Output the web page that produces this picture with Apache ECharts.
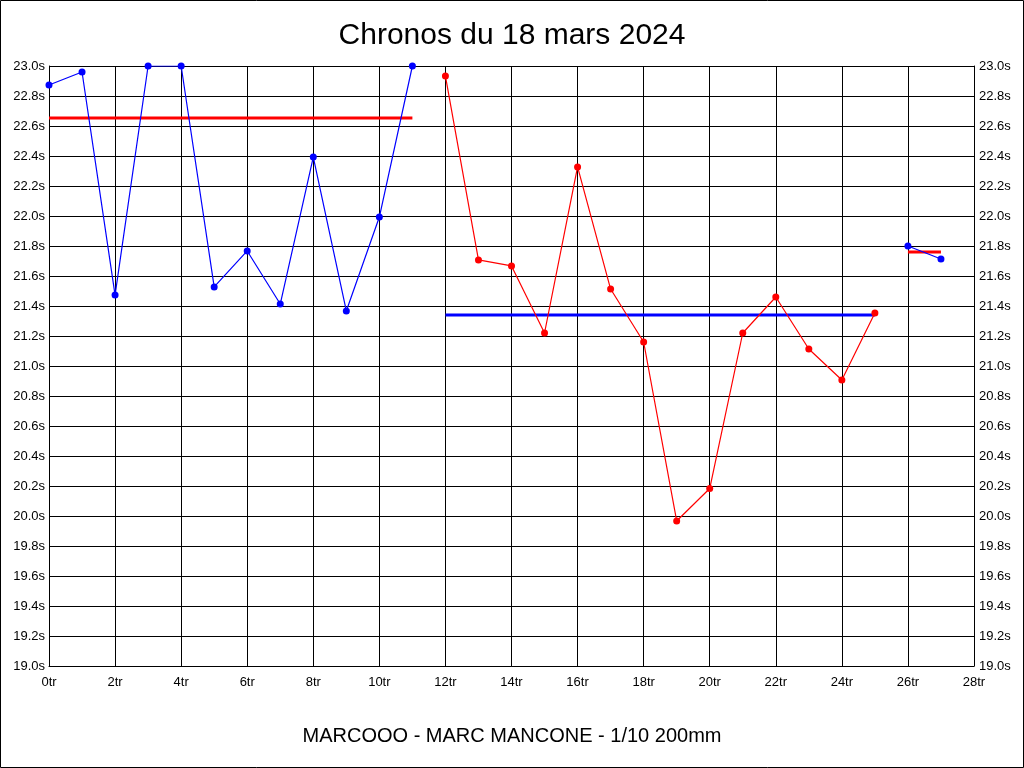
<!DOCTYPE html>
<html><head><meta charset="utf-8">
<script src="https://cdn.jsdelivr.net/npm/echarts@6/dist/echarts.min.js"></script>
<style>html,body{margin:0;padding:0;background:#fff}#c{width:1024px;height:768px}</style>
</head><body><div id="c"></div>
<script>
const titleText = "Chronos du 18 mars 2024";
const subtitleText = "MARCOOO - MARC MANCONE - 1/10 200mm";
const seg1Laps = [0,1,2,3,4,5,6,7,8,9,10,11];
const seg1Times = [22.873,22.96,21.473,23.0,23.0,21.527,21.767,21.413,22.393,21.367,21.993,23.0];
const seg2Laps = [12,13,14,15,16,17,18,19,20,21,22,23,24,25];
const seg2Times = [22.933,21.707,21.667,21.22,22.327,21.513,21.16,19.967,20.183,21.22,21.46,21.113,20.907,21.353];
const seg3Laps = [26,27];
const seg3Times = [21.80,21.713];
const mean1 = 22.653, mean2 = 21.34, mean3 = 21.76;
const BLUE = '#0000ff', RED = '#ff0000';

const pairs = (xs, ys) => xs.map((x,i)=>[x, ys[i]]);
const meanLine = (xs, m) => [[xs[0], m], [xs[xs.length-1], m]];

const chart = echarts.init(document.getElementById('c'), null, {renderer:'canvas'});
const lblStyle = {color:'#000', fontFamily:'Liberation Sans, Arial, sans-serif', fontSize:13};
function dataLine(xs, ys, color){
  return {type:'line', data:pairs(xs, ys), symbol:'circle', symbolSize:7, showSymbol:true,
    lineStyle:{color, width:1.2}, itemStyle:{color}, animation:false, z:3};
}
function mLine(xs, m, color){
  return {type:'line', data:meanLine(xs, m), symbol:'none', lineStyle:{color, width:3}, animation:false, z:2};
}
chart.setOption({
  backgroundColor:'#fff',
  animation:false,
  title:[
    {text:titleText, left:'center', top:16, textStyle:{fontFamily:'Liberation Sans, Arial, sans-serif', fontSize:30, fontWeight:'normal', color:'#000'}},
    {text:subtitleText, left:'center', top:721, textStyle:{fontFamily:'Liberation Sans, Arial, sans-serif', fontSize:20, fontWeight:'normal', color:'#000'}}
  ],
  grid:{left:49, right:50, top:66, bottom:102, containLabel:false},
  xAxis:{type:'value', min:0, max:28, interval:2,
    axisLine:{show:true, lineStyle:{color:'#000', width:1}}, axisTick:{show:false},
    splitLine:{show:true, lineStyle:{color:'#000', width:1}},
    axisLabel:Object.assign({formatter:v=>v+'tr', margin:10}, lblStyle)},
  yAxis:[
    {type:'value', min:19, max:23, interval:0.2, position:'left',
      axisLine:{show:true, lineStyle:{color:'#000'}}, axisTick:{show:false},
      splitLine:{show:true, lineStyle:{color:'#000', width:1}},
      axisLabel:Object.assign({formatter:v=>v.toFixed(1)+'s', margin:4}, lblStyle)},
    {type:'value', min:19, max:23, interval:0.2, position:'right',
      axisLine:{show:true, lineStyle:{color:'#000'}}, axisTick:{show:false},
      splitLine:{show:false},
      axisLabel:Object.assign({formatter:v=>v.toFixed(1)+'s', margin:5}, lblStyle)}
  ],
  graphic:[{type:'rect', shape:{x:0.5,y:0.5,width:1023,height:767}, style:{fill:'none', stroke:'#000', lineWidth:1}, silent:true}],
  series:[
    mLine(seg1Laps, mean1, RED),
    mLine(seg2Laps, mean2, BLUE),
    mLine(seg3Laps, mean3, RED),
    dataLine(seg1Laps, seg1Times, BLUE),
    dataLine(seg2Laps, seg2Times, RED),
    dataLine(seg3Laps, seg3Times, BLUE)
  ]
});
</script></body></html>
